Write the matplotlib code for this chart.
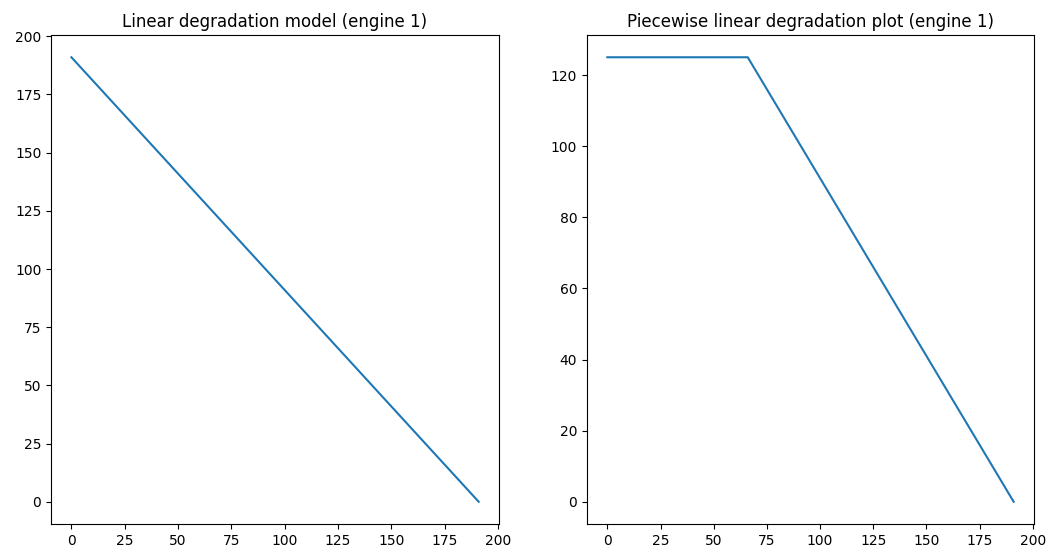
import matplotlib
matplotlib.use('Agg')
import matplotlib.pyplot as plt

# engine 1: remaining useful life per cycle
lin_cycles = [0, 191]
lin_rul = [191, 0]

pw_cycles = [0, 66, 191]
pw_rul = [125, 125, 0]

fig = plt.figure(figsize=(10.46, 5.5), dpi=100)
ax1 = fig.add_axes([0.0488, 0.0473, 0.4283, 0.889])
ax2 = fig.add_axes([0.5612, 0.0473, 0.4273, 0.889])

ax1.plot(lin_cycles, lin_rul)
ax1.set_title('Linear degradation model (engine 1)')

ax2.plot(pw_cycles, pw_rul)
ax2.set_title('Piecewise linear degradation plot (engine 1)')

fig.savefig('out.png', dpi=100)
